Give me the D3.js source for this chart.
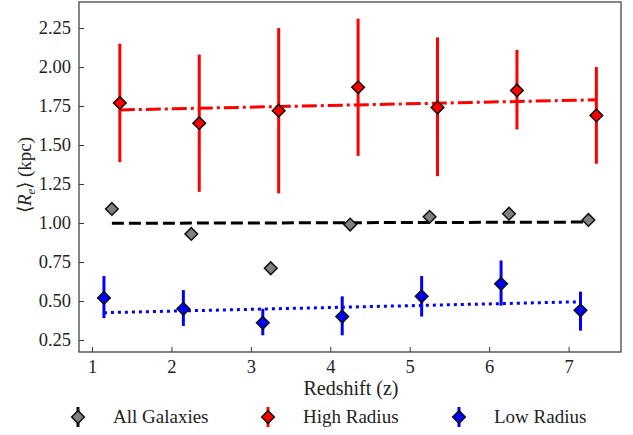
<!DOCTYPE html>
<html><head><meta charset="utf-8">
<script src="https://cdn.jsdelivr.net/npm/d3@7"></script>
<style>body{margin:0;background:#fff}svg text{font-family:'Liberation Serif','Times New Roman',serif}</style>
</head><body><svg id="c" width="633" height="435"></svg>
<script>
const zBase = [1, 2, 3, 4, 5, 6, 7];
const allVals = [1.09, 0.93, 0.71, 0.99, 1.04, 1.06, 1.02];
const highVals = [1.77, 1.64, 1.72, 1.87, 1.74, 1.85, 1.69];
const highLo = [1.39, 1.20, 1.19, 1.43, 1.30, 1.60, 1.38];
const highHi = [2.15, 2.08, 2.25, 2.31, 2.19, 2.11, 2.00];
const lowVals = [0.52, 0.45, 0.36, 0.40, 0.53, 0.61, 0.44];
const lowLo = [0.39, 0.34, 0.28, 0.28, 0.40, 0.47, 0.31];
const lowHi = [0.66, 0.57, 0.45, 0.53, 0.66, 0.76, 0.56];
const allFit = [0.998, 1.006];
const highFit = [1.725, 1.79];
const lowFit = [0.425, 0.495];
const xTicks = [1, 2, 3, 4, 5, 6, 7];
const yTicks = [0.25, 0.50, 0.75, 1.00, 1.25, 1.50, 1.75, 2.00, 2.25];
const offsets = {all: 0.25, high: 0.35, low: 0.15};

const svg = d3.select("#c");
const L = 79, T = 2, R = 621, B = 352;
const x = d3.scaleLinear().domain([0.836, 7.66]).range([L, R]);
const y = d3.scaleLinear().domain([0.173, 2.417]).range([B, T]);

const xa = svg.append("g").attr("transform", `translate(0,${B})`)
  .call(d3.axisBottom(x).tickValues(xTicks).tickFormat(d3.format("d")).tickSizeInner(-5).tickSizeOuter(0).tickPadding(8));
const ya = svg.append("g").attr("transform", `translate(${L},0)`)
  .call(d3.axisLeft(y).tickValues(yTicks).tickFormat(d3.format(".2f")).tickSizeInner(-5).tickSizeOuter(0).tickPadding(8));
[xa, ya].forEach(a => {
  a.attr("font-family", null).attr("font-size", null);
  a.select(".domain").remove();
  a.selectAll("line").attr("stroke", "#333").attr("stroke-width", 1);
  a.selectAll("text").attr("font-size", 18.5).attr("fill", "#222");
});
svg.append("rect").attr("x", L).attr("y", T).attr("width", R - L).attr("height", B - T)
  .attr("fill", "none").attr("stroke", "#444").attr("stroke-width", 1.3);

function fit(vals, off, color, dash, w) {
  svg.append("line").attr("x1", x(zBase[0] + off)).attr("x2", x(zBase[6] + off))
    .attr("y1", y(vals[0])).attr("y2", y(vals[1]))
    .attr("stroke", color).attr("stroke-width", w).attr("stroke-dasharray", dash);
}
fit(highFit, offsets.high, "#ff0000", "15,4,3,4", 3);
fit(allFit, offsets.all, "#000", "12,5", 3);
fit(lowFit, offsets.low, "#0000ff", "3,4", 3);

const diamond = d3.symbol().type(d3.symbolSquare).size(80);
function series(vals, lo, hi, off, color) {
  if (lo) {
    svg.append("g").selectAll("line").data(zBase).join("line")
      .attr("x1", (d) => x(d + off)).attr("x2", (d) => x(d + off))
      .attr("y1", (d, i) => y(lo[i])).attr("y2", (d, i) => y(hi[i]))
      .attr("stroke", color).attr("stroke-width", 3);
  }
  svg.append("g").selectAll("path").data(zBase).join("path")
    .attr("d", diamond)
    .attr("transform", (d, i) => `translate(${x(d + off)},${y(vals[i])}) rotate(45)`)
    .attr("fill", color).attr("stroke", "#111").attr("stroke-width", 1.5);
}
series(allVals, null, null, offsets.all, "#808080");
series(highVals, highLo, highHi, offsets.high, "#ff0000");
series(lowVals, lowLo, lowHi, offsets.low, "#0000ff");

svg.append("text").attr("x", 351).attr("y", 395).attr("text-anchor", "middle")
  .attr("font-size", 20).attr("fill", "#222").text("Redshift (z)");
const yl = svg.append("text").attr("transform", "translate(31,175) rotate(-90)")
  .attr("text-anchor", "middle").attr("font-size", 19).attr("fill", "#222");
yl.append("tspan").text("⟨");
yl.append("tspan").attr("font-style", "italic").text("R");
yl.append("tspan").attr("font-style", "italic").attr("font-size", 13).attr("dy", 4).text("e");
yl.append("tspan").attr("dy", -4).text("⟩ (kpc)");

const legend = [
  {name: "All Galaxies", color: "#808080", line: "#111", mx: 78, tx: 113},
  {name: "High Radius", color: "#ff0000", line: "#ff0000", mx: 268, tx: 303},
  {name: "Low Radius", color: "#0000ff", line: "#0000ff", mx: 459, tx: 494}
];
const lg = svg.append("g").selectAll("g").data(legend).join("g");
lg.append("line").attr("x1", d => d.mx).attr("x2", d => d.mx).attr("y1", 407).attr("y2", 427)
  .attr("stroke", d => d.line).attr("stroke-width", 3);
lg.append("path").attr("d", diamond).attr("transform", d => `translate(${d.mx},417) rotate(45)`)
  .attr("fill", d => d.color).attr("stroke", "#111").attr("stroke-width", 1.5);
lg.append("text").attr("x", d => d.tx).attr("y", 423).attr("font-size", 19).attr("fill", "#222").text(d => d.name);
</script></body></html>
